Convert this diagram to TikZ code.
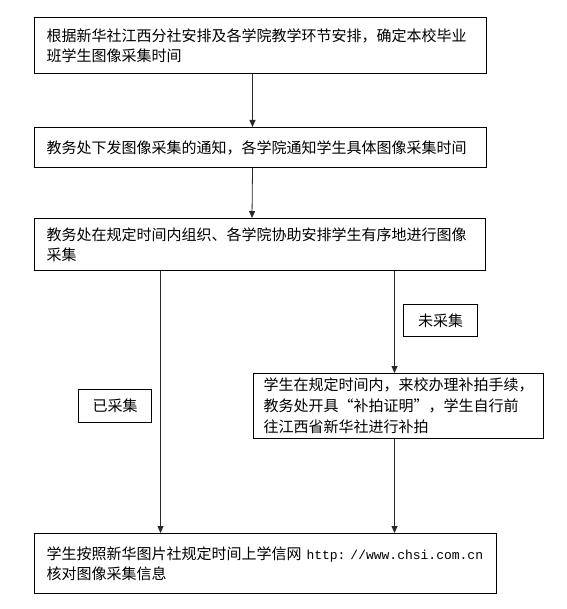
\documentclass[tikz,border=0pt]{standalone}
\usepackage{fontspec}
\setmainfont{Noto Sans CJK SC}
\setmonofont{Liberation Mono}
\usepackage{tikz}
\usetikzlibrary{arrows.meta, positioning, calc}
\definecolor{mydark}{RGB}{0,0,0}
\definecolor{myline}{RGB}{40,40,40}
\tikzset{
  stepbox/.style={rectangle, draw=mydark, line width=1pt, anchor=north west,
    align=left, inner xsep=12pt, inner ysep=0pt,
    font=\fontsize{15}{20}\selectfont},
  tagbox/.style={rectangle, draw=mydark, line width=1pt, anchor=north west,
    inner sep=0pt, font=\fontsize{15}{20}\selectfont},
  arrow/.style={-{Triangle[length=7pt,width=6pt]}, line width=0.8pt, color=myline}
}

\begin{document}
\begin{tikzpicture}[x=1pt, y=-1pt]
    \useasboundingbox (0,0) rectangle (566,609);

    % Main steps
    \node[stepbox, text width=428pt, minimum height=56pt] (b1) at (34,17)
      {根据新华社江西分社安排及各学院教学环节安排，确定本校毕业\\班学生图像采集时间};
    \node[stepbox, text width=428pt, minimum height=40pt] (b2) at (34,127)
      {教务处下发图像采集的通知，各学院通知学生具体图像采集时间};
    \node[stepbox, text width=427pt, minimum height=52pt] (b3) at (34,218)
      {教务处在规定时间内组织、各学院协助安排学生有序地进行图像\\采集};

    % Branch: not collected
    \node[tagbox, minimum width=74pt, minimum height=32pt] (t1) at (403,304) {未采集};
    \node[stepbox, inner xsep=10pt, text width=270pt, minimum height=65pt,
      font=\fontsize{15}{21}\selectfont] (b4) at (253,373)
      {学生在规定时间内，来校办理补拍手续，\\教务处开具“补拍证明”，学生自行前\\往江西省新华社进行补拍};

    % Branch: collected
    \node[tagbox, minimum width=73pt, minimum height=33pt] (t2) at (78,389) {已采集};

    % Final step
    \node[stepbox, text width=438pt, minimum height=60pt] (b5) at (34,533)
      {\mbox{学生按照新华图片社规定时间上学信网~{\fontsize{13}{20}\ttfamily http:~//www.chsi.com.cn}}\\核对图像采集信息};

    % Connectors
    \draw[arrow] ([xshift=-8pt]b1.south) -- ([xshift=-8pt]b2.north);
    \draw[arrow] ([xshift=-8pt]b2.south) -- ([xshift=-8pt]b3.north);

    \coordinate (l1) at ([xshift=-99.5pt]b3.south);
    \draw[arrow] (l1) -- (l1 |- b5.north);

    \coordinate (r1) at ([xshift=-4pt]b4.north);
    \coordinate (r2) at ([xshift=-4pt]b4.south);
    \draw[arrow] (r1 |- b3.south) -- (r1);
    \draw[arrow] (r2) -- (r2 |- b5.north);
\end{tikzpicture}
\end{document}
